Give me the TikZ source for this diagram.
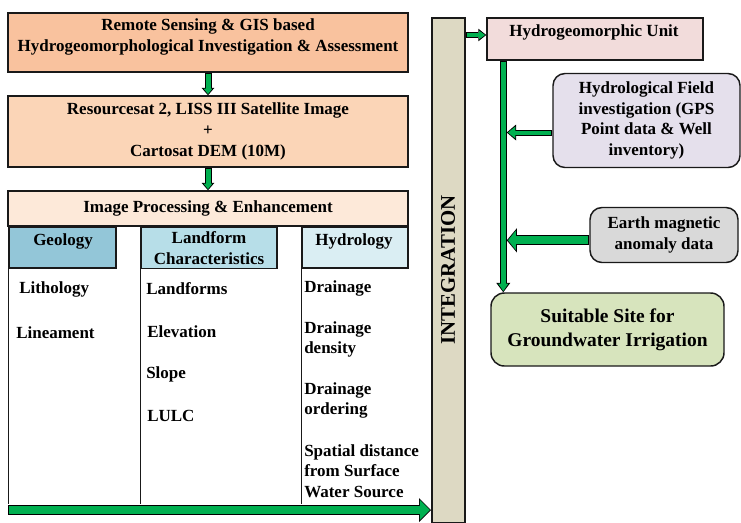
\documentclass[tikz,border=0pt]{standalone}
\usepackage{fontspec}
\setmainfont{Liberation Serif}
\usetikzlibrary{arrows.meta,calc}
\definecolor{ggreen}{HTML}{00B050}
\definecolor{cBoxA}{HTML}{F9C29E}
\definecolor{cBoxB}{HTML}{FBD5B7}
\definecolor{cBoxC}{HTML}{FDE9D9}
\definecolor{cGeo}{HTML}{93C6D8}
\definecolor{cLand}{HTML}{B7DEE8}
\definecolor{cHyd}{HTML}{DAEEF3}
\definecolor{cInt}{HTML}{DDD9C3}
\definecolor{cHU}{HTML}{F2DCDB}
\definecolor{cHF}{HTML}{E5E0EC}
\definecolor{cEM}{HTML}{D9D9D9}
\definecolor{cSS}{HTML}{D7E4BD}
\newcommand\myfs{\fontsize{12.75pt}{15.5pt}\selectfont}
\newcommand\mybigfs{\fontsize{14.6pt}{18pt}\selectfont}
\tikzset{
  box/.style={draw=black!90, line width=1.1pt, inner sep=2pt},
  rbox/.style={box, rounded corners=9pt},
  txt/.style={font=\myfs\bfseries, text=black, align=center, inner sep=0pt},
  item/.style={font=\myfs\bfseries, text=black, align=left, anchor=west, inner sep=0pt},
  colline/.style={draw=black!90, line width=1.1pt},
  garrow/.style n args={6}{draw=black, line width=#1,
    -{Triangle[width=#3,length=#4,line width=0pt]},
    postaction={draw=ggreen, line width=#2,
      -{Triangle[width=#5,length=#6,line width=0pt]},
      shorten >=0.9pt, shorten <=0.6pt}}
}
\begin{document}
\begin{tikzpicture}[x=0.75pt,y=-0.75pt]
\fill[white] (0,0) rectangle (741,522);
\useasboundingbox (0,0) rectangle (741,522);

% left column boxes
\node[box, fill=cBoxA, minimum width=300pt, minimum height=44.25pt] (b1) at (208,42.5) {};
\node[txt] (b1t) at (208,37) {Remote Sensing \& GIS based\\Hydrogeomorphological Investigation \& Assessment};
\node[box, fill=cBoxB, minimum width=300pt, minimum height=53.25pt, txt] (b2) at (208,131.5)
  {Resourcesat 2, LISS III Satellite Image\\+\\Cartosat DEM (10M)};
\node[box, fill=cBoxC, minimum width=300pt, minimum height=26.25pt, txt] (b3) at (208,208.5)
  {Image Processing \& Enhancement};

% headers
\node[box, fill=cGeo, minimum width=80.25pt, minimum height=30.75pt] (geo) at (62.5,247.5) {};
\node[txt] (geot) at (63,241.5) {Geology};
\node[box, fill=cLand, minimum width=102pt, minimum height=30.75pt, txt, font=\fontsize{12.75pt}{15.75pt}\selectfont\bfseries] (lf) at (209,248) {Landform\\Characteristics};
\node[box, fill=cHyd, minimum width=79.5pt, minimum height=30.75pt] (hyd) at (355,247.5) {};
\node[txt] (hydt) at (354,241.5) {Hydrology};

% column lines
\coordinate (colbot) at (0,504);
\draw[colline] (geo.south west) -- (geo.south west |- colbot);
\draw[colline] (lf.north west) -- (lf.north west |- colbot);
\draw[colline] (hyd.north west) -- (hyd.north west |- colbot);

% items
\node[item] (lith) at (19,289) {Lithology};
\node[item] (linea) at (16,332.5) {Lineament};
\node[item] (lfs) at (146,289) {Landforms};
\node[item] (elev) at (147,331.5) {Elevation};
\node[item] (slope) at (146,374) {Slope};
\node[item] (lulc) at (147,415.5) {LULC};
\node[item] (drain) at (304,288) {Drainage};
\node[item] (ddens) at (304,339.5) {Drainage\\density};
\node[item] (dord) at (304,400.5) {Drainage\\ordering};
\node[item] (spat) at (304,471) {Spatial distance\\from Surface\\Water Source};

% integration bar
\node[draw=black!90, line width=1.5pt, fill=cInt, minimum width=24.75pt, minimum height=378.75pt, inner sep=0pt] (int) at (448.5,270.5) {};
\node[txt, rotate=90, font=\fontsize{15.6pt}{18pt}\selectfont\bfseries] (intt) at (448,270) {INTEGRATION};

% right side
\node[box, fill=cHU, minimum width=162pt, minimum height=31.5pt] (hu) at (595,39) {};
\node[txt] (hut) at (594,32) {Hydrogeomorphic Unit};
\node[rbox, fill=cHF, minimum width=140.25pt, minimum height=70.5pt, txt] (hf) at (646.5,120.5)
  {Hydrological Field\\investigation (GPS\\Point data \& Well\\inventory)};
\node[rbox, fill=cEM, minimum width=111pt, minimum height=41.25pt, txt] (em) at (664,235)
  {Earth magnetic\\anomaly data};
\node[rbox, rounded corners=10pt, fill=cSS, minimum width=174.75pt, minimum height=54.75pt, txt, font=\mybigfs\bfseries] (ss) at (607.5,329.5)
  {Suitable Site for\\Groundwater Irrigation};

% arrows
\draw[garrow={5.25pt}{3.75pt}{9.5pt}{5.5pt}{6.5pt}{4pt}] (b1.south) -- (b2.north);
\draw[garrow={5.25pt}{3.75pt}{9.5pt}{5.5pt}{6.5pt}{4pt}] (b2.south) -- (b3.north);
\coordinate (bs) at (8,510);
\draw[garrow={7.5pt}{6pt}{18pt}{9pt}{15pt}{7.5pt}] (bs) -- (bs -| int.west);
\coordinate (hua) at ([yshift=3pt]hu.west);
\draw[garrow={4.5pt}{3pt}{9.5pt}{6pt}{6.5pt}{4.5pt}] (int.east |- hua) -- (hua);
\coordinate (vt) at ($(hu.south west)+(17,0)$);
\coordinate (vr) at ($(vt)+(3.5,0)$);
\draw[garrow={5.25pt}{3.75pt}{10.5pt}{7pt}{7.5pt}{5.5pt}] (vt) -- (vt |- ss.north);
\coordinate (hfa) at ([yshift=-9pt]hf.west);
\draw[garrow={4.5pt}{3pt}{12pt}{7pt}{9pt}{5.5pt}] (hfa) -- (hfa -| vr);
\coordinate (ema) at ([yshift=-4pt]em.west);
\draw[garrow={7.5pt}{6pt}{18pt}{7.5pt}{15pt}{6pt}] (ema) -- (ema -| vr);
\end{tikzpicture}
\end{document}
